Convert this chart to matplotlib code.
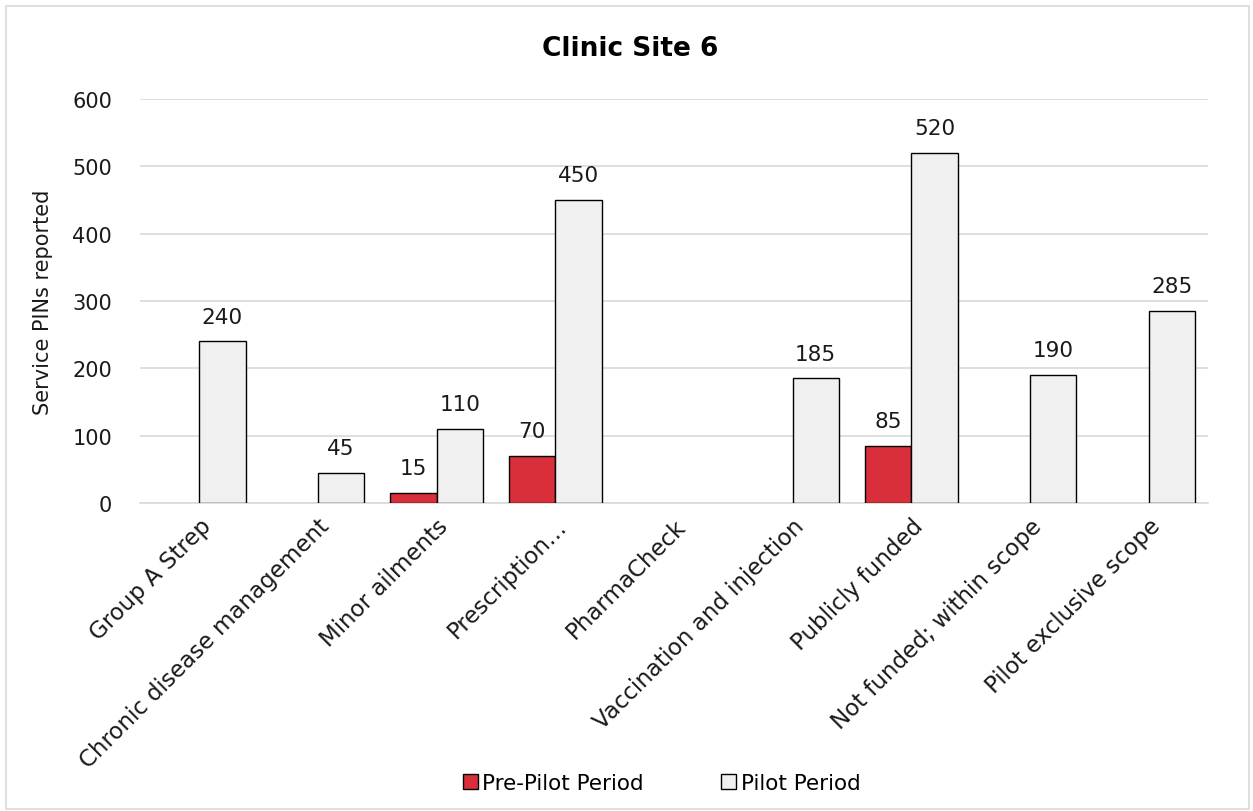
import matplotlib
matplotlib.use("Agg")
import matplotlib.pyplot as plt
from matplotlib.patches import Rectangle
import numpy as np

categories = ["Group A Strep", "Chronic disease management", "Minor ailments",
              "Prescription…", "PharmaCheck", "Vaccination and injection",
              "Publicly funded", "Not funded; within scope", "Pilot exclusive scope"]
pre_pilot = [0, 0, 15, 70, 0, 0, 85, 0, 0]
pilot = [240, 45, 110, 450, 0, 185, 520, 190, 285]
series_names = ["Pre-Pilot Period", "Pilot Period"]
y_ticks = [0, 100, 200, 300, 400, 500, 600]

plt.rcParams["font.family"] = ["DejaVu Sans"]
red = "#D82F3B"
light = "#F0F0F0"
text_color = "#1A1A1A"

fig = plt.figure(figsize=(12.53, 8.12), dpi=100)
fig.patches.append(Rectangle((0.005, 0.003), 0.992, 0.988, transform=fig.transFigure,
                             fill=False, edgecolor="#D9D9D9", linewidth=1.2))
ax = fig.add_axes([0.1117, 0.3793, 0.8523, 0.4975])

x = np.arange(len(categories))
bw = 0.39
for vals, color, offset, name in [(pre_pilot, red, -bw / 2, series_names[0]),
                                  (pilot, light, bw / 2, series_names[1])]:
    v = np.array(vals, dtype=float)
    mask = v > 0
    bars = ax.bar(x[mask] + offset, v[mask], width=bw, color=color,
                  edgecolor="black", linewidth=1.0, label=name, zorder=3)
    for b, val in zip(bars, v[mask]):
        ax.text(b.get_x() + b.get_width() / 2, val + 22, f"{int(val)}",
                ha="center", va="bottom", fontsize=15.5, color=text_color)

ax.set_xlim(-0.5, len(categories) - 0.5)
ax.set_ylim(0, 600)
ax.set_yticks(y_ticks)
ax.tick_params(axis="y", length=0, labelsize=15, pad=20, labelcolor=text_color)
ax.tick_params(axis="x", length=0, labelsize=16.5, pad=8, labelcolor=text_color)
ax.set_xticks(x)
ax.set_xticklabels(categories, rotation=45, ha="right", rotation_mode="anchor")
ax.yaxis.grid(True, color="#D9D9D9", linewidth=1.2, zorder=0)
ax.set_axisbelow(True)
for s in ["top", "right", "left"]:
    ax.spines[s].set_visible(False)
ax.spines["bottom"].set_color("#D9D9D9")
ax.spines["bottom"].set_linewidth(1.2)

ax.set_ylabel("Service PINs reported", fontsize=15, color=text_color, labelpad=14)
fig.text(0.503, 0.94, "Clinic Site 6", ha="center", va="center",
         fontsize=19, fontweight="bold")

fig.legend(loc="center", bbox_to_anchor=(0.528, 0.035), ncol=2, frameon=False,
           fontsize=15.5, handlelength=0.7, handleheight=0.7, handletextpad=0.2,
           columnspacing=3.6)

fig.savefig("out.png", dpi=100, facecolor="white")
